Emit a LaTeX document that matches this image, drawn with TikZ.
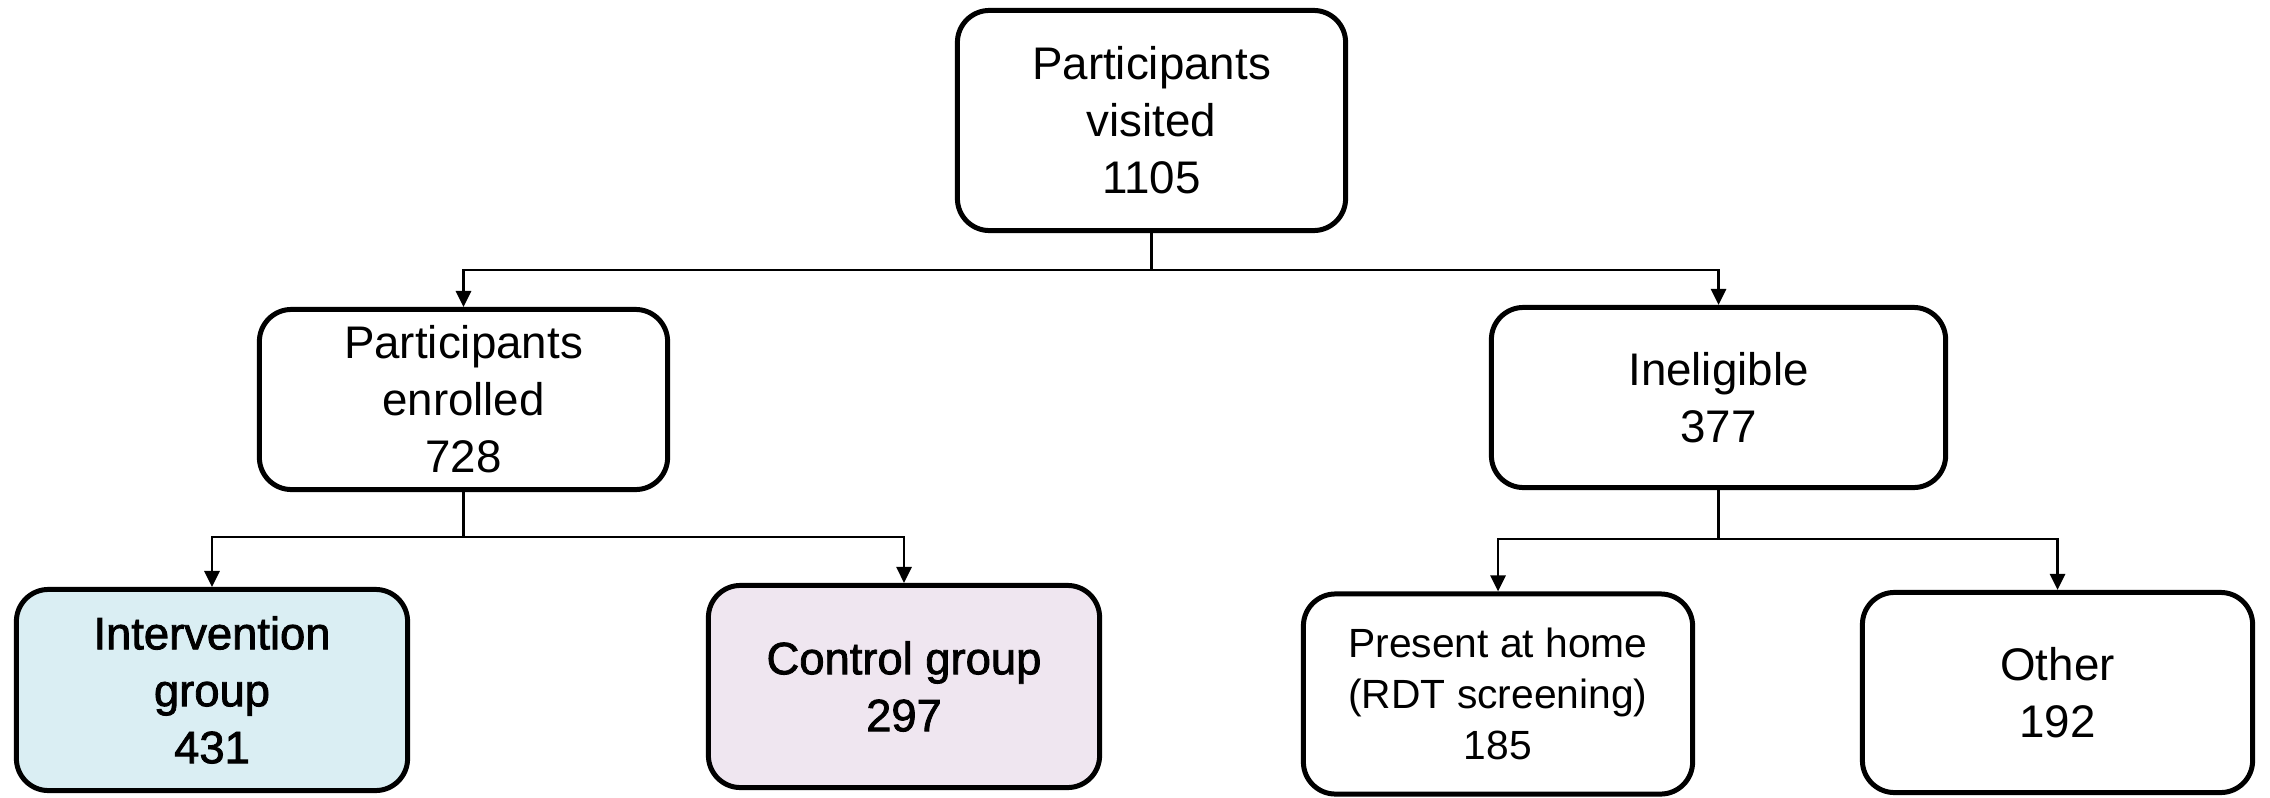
\documentclass[tikz,border=0pt]{standalone}
\usepackage{fontspec}
\setmainfont{Liberation Sans}
\newfontfamily\medfont[FakeBold=1.8]{Liberation Sans}
\usetikzlibrary{arrows.meta}
\definecolor{intfill}{HTML}{DAEEF3}
\definecolor{ctlfill}{HTML}{EFE6F0}
\tikzset{
  box/.style={draw=black, line width=1.42pt, rounded corners=0.32cm, fill=white,
    align=center, inner sep=0pt, font=\fontsize{13pt}{16.2pt}\selectfont},
  smallbox/.style={box, font=\fontsize{11.6pt}{14.6pt}\selectfont},
  boldbox/.style={box, font=\fontsize{12.9pt}{16.2pt}\selectfont\medfont},
  conn/.style={draw=black, line width=0.8pt},
  arr/.style={conn, -{Triangle[length=0.16cm, width=0.15cm]}}
}
\begin{document}
\begin{tikzpicture}[x=0.01cm, y=-0.01cm]
\useasboundingbox (0,0) rectangle (2270,797);
% nodes
\node[box, minimum width=3.88cm, minimum height=2.20cm] (visited) at (1151.5,120.5) {Participants\\visited\\1105};
\node[box, minimum width=4.08cm, minimum height=1.80cm] (enrolled) at (463.5,399.5) {Participants\\enrolled\\728};
\node[box, minimum width=4.54cm, minimum height=1.80cm] (inelig) at (1718.5,397.5) {Ineligible\\377};
\node[boldbox, fill=intfill, minimum width=3.91cm, minimum height=2.01cm] (interv) at (212,690) {Intervention\\group\\431};
\node[boldbox, fill=ctlfill, minimum width=3.91cm, minimum height=2.02cm] (control) at (904,686.5) {Control group\\297};
\node[smallbox, minimum width=3.89cm, minimum height=2.00cm] (present) at (1498,694) {Present at home\\(RDT screening)\\185};
\node[box, minimum width=3.90cm, minimum height=2.00cm] (other) at (2057.5,692.5) {Other\\192};
% junctions
\coordinate (j1) at (1151.5,270);
\coordinate (j2) at (463.5,537);
\coordinate (j3) at (1718.5,539);
% connectors
\draw[conn] (visited.south) -- (j1);
\draw[arr] (j1) -| (enrolled.north);
\draw[arr] (j1) -| (inelig.north);
\draw[conn] (enrolled.south) -- (j2);
\draw[arr] (j2) -| (interv.north);
\draw[arr] (j2) -| (control.north);
\draw[conn] (inelig.south) -- (j3);
\draw[arr] (j3) -| (present.north);
\draw[arr] (j3) -| (other.north);
\end{tikzpicture}
\end{document}
